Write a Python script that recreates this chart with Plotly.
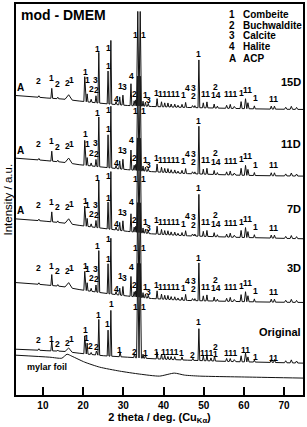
import numpy as np
import plotly.graph_objects as go

FONT = "Liberation Sans, Arial, sans-serif"

# ---------------- data ----------------
# background (baseline) knots, 2theta in degrees, intensity in a.u. (stacked)
BASE_X = [3.3, 7, 11, 15, 19, 25, 31, 37, 46, 58, 64, 75]
BASE_15D = [301, 300, 298.5, 297.5, 295.5, 293, 291, 290, 289, 288, 287.5, 287]
BASE_11D = [238, 237, 235.5, 234, 231.5, 229, 226.5, 224.5, 222.5, 221, 220.5, 220]
BASE_7D = [177, 176, 174.5, 173, 170.5, 167.5, 164.5, 162, 160, 158.5, 158, 157]
BASE_3D = [113, 112, 110.5, 109, 106, 102.5, 99.5, 97, 95, 94, 93.5, 93]
BASE_ORIG = [46, 45.5, 44.5, 44, 42, 39.5, 38, 36.5, 35, 33.5, 33, 32]

# peaks of the soaked samples (2theta, half width) and heights per sample
PEAK_X = [9.0, 12.2, 13.7, 16.4, 20.4, 21.0, 22.0, 23.2, 23.9, 26.2, 26.9, 28.2, 29.1, 29.9,
          31.9, 32.7, 33.1, 33.6, 34.2, 34.9, 35.5, 36.2, 38.4, 39.5, 40.3, 41.1, 41.9, 42.8,
          43.6, 44.6, 45.5, 47.2, 47.8, 48.8, 49.9, 50.8, 52.6, 53.4, 55.7, 56.6, 57.6, 59.3,
          60.4, 61.0, 62.6, 66.8, 67.6, 70.4, 71.8, 73.1]
PEAK_W = [0.22, 0.22, 0.22, 0.9, 0.22, 0.22, 0.22, 0.22, 0.22, 0.22, 0.22, 0.22, 0.22, 0.22,
          0.22, 0.22, 0.18, 0.3, 0.3, 0.18, 0.22, 0.22, 0.22, 0.22, 0.22, 0.22, 0.22, 0.22,
          0.22, 0.22, 0.22, 0.22, 0.22, 0.22, 0.22, 0.22, 0.22, 0.22, 0.25, 0.25, 0.25, 0.25,
          0.28, 0.28, 0.22, 0.25, 0.25, 0.3, 0.3, 0.3]
H_15D = [1.5, 10, 1.5, 5, 25, 8, 3, 7, 51, 33, 64, 3, 8, 10, 22, 5, 6, 95, 95, 5, 4, 3, 8, 5,
         4, 4, 3, 3, 2, 3, 5, 2, 2, 48, 5, 6, 4, 2, 3, 4, 2, 7, 10, 6, 3, 3, 3, 2, 3, 2]
H_11D = [1.5, 10, 1.5, 5, 25, 8, 3, 7, 50, 33, 62, 3, 8, 10, 20, 5, 6, 95, 95, 5, 4, 3, 8, 5,
         4, 4, 3, 3, 2, 3, 5, 2, 2, 48, 5, 6, 4, 2, 3, 4, 2, 7, 10, 6, 3, 3, 3, 2, 3, 2]
H_7D = [1.5, 10, 1.5, 5, 20, 8, 3, 7, 47, 27, 58, 3, 8, 10, 18, 5, 6, 95, 95, 5, 4, 3, 8, 5,
        4, 4, 3, 3, 2, 3, 5, 2, 2, 42, 5, 6, 4, 2, 3, 4, 2, 7, 10, 6, 3, 3, 3, 2, 3, 2]
H_3D = [1.5, 11, 1.5, 5, 19, 8, 3, 7, 42, 30, 56, 3, 7, 9, 20, 5, 6, 95, 95, 5, 4, 3, 8, 5,
        4, 4, 3, 3, 2, 3, 6, 2, 2, 38, 5, 6, 4, 2, 3, 4, 2, 7, 10, 6, 3, 3, 3, 2, 3, 2]

# peaks of the original glass-ceramic
ORIG_X = [9.0, 12.2, 13.7, 16.4, 20.4, 21.0, 22.0, 23.3, 23.9, 26.2, 26.9, 29.2, 32.8, 33.6,
          34.2, 34.9, 35.5, 38.4, 39.5, 40.3, 41.1, 41.9, 42.8, 44.6, 47.3, 48.8, 49.9, 50.8,
          51.8, 52.7, 55.7, 56.6, 57.6, 59.3, 60.4, 61.0, 62.6, 66.8, 67.6, 70.4, 71.8, 73.1]
ORIG_W = [0.22, 0.22, 0.22, 0.9, 0.22, 0.22, 0.22, 0.22, 0.22, 0.22, 0.22, 0.22, 0.22, 0.3,
          0.3, 0.18, 0.22, 0.22, 0.22, 0.22, 0.22, 0.22, 0.22, 0.22, 0.22, 0.22, 0.22, 0.22,
          0.22, 0.22, 0.25, 0.25, 0.25, 0.25, 0.28, 0.28, 0.22, 0.25, 0.25, 0.3, 0.3, 0.3]
ORIG_H = [1.5, 10, 1, 4, 18, 11, 2, 4, 36, 26, 46, 5, 4, 95, 95, 4, 3, 7, 5, 4, 3, 3, 3, 3,
          2, 32, 5, 6, 3, 5, 3, 3, 2, 6, 9, 5, 2, 3, 3, 2, 3, 2]

# mylar foil background
MYLAR_X = [3.3, 11.7, 14.7, 16.0, 17.2, 20.4, 24.1, 29.1, 34.1, 39.0, 42.7, 45.2, 48.9, 61.3, 74.7]
MYLAR_Y = [40, 38, 37, 41, 39, 33, 28, 24, 21, 19, 22, 20, 19, 18, 17]

# phase labels of soaked samples: text, 2theta, height above background
LBL_T_TEXT = ["2", "1", "2", "2", "1", "1", "3", "2", "2", "4", "1", "3", "4", "2", "1", "3",
              "1", "11111", "1", "4", "3", "2", "11", "2", "14",
              "111", "1", "11", "1", "11"]
LBL_T_X = [9.0, 12.2, 13.7, 16.2, 17.1, 21.1, 23.1, 22.0, 23.3, 28.2, 29.2, 30.2, 32.0, 32.9,
           35.5, 36.2, 38.3, 41.45, 44.9, 45.9, 47.4, 47.4, 50.5, 52.9, 53.05,
           56.9, 59.3, 60.9, 62.8, 67.3]
LBL_T_DY = [16, 20, 15, 17, 20, 22, 23, 13, 13, 6, 19, 18, 30, 12, 11, 6, 14, 13, 12, 19.5, 19.5,
            11.5, 14, 21.5, 13, 14, 16, 19, 11, 10.5]

LBL_O_TEXT = ["2", "1", "2", "2", "1", "1", "2", "2", "1", "2", "1", "1", "1111",
              "1", "2", "111", "2", "1", "111", "11", "1", "11"]
LBL_O_X = [9.0, 12.2, 13.7, 16.2, 17.2, 20.9, 21.9, 23.4, 29.1, 32.8, 35.5, 38.3, 41.65,
           44.5, 47.2, 50.8, 52.9, 52.9, 56.9, 60.3, 62.8, 67.3]
LBL_O_DY = [10, 11.5, 7, 9, 13, 16, 8, 8.5, 7, 6, 5.5, 7, 8,
            6.5, 5, 7.5, 14.5, 7, 8.5, 11.5, 5, 4.5]

# labels on the tall peaks (absolute a.u.)
TALL_X = [20.5, 23.5, 26.2, 26.3, 48.8]
TALL_X_ORIG = [20.5, 23.8, 26.1, 27.1, 48.8]
TALL_Y = {"15D": [325, 348, 331, 349, 343], "11D": [262, 283, 267, 286, 275],
          "7D": [195, 218, 198, 220, 208], "3D": [130, 150, 137, 157, 138],
          "Original": [65, 80, 71, 91, 73]}
MAIN_LBL_X = [33.0, 34.9]
MAIN_LBL_Y = {"15D": 362, "11D": 285, "7D": 217, "3D": 148, "Original": 88}

SAMPLES = ["15D", "11D", "7D", "3D"]
SAMPLE_BASE = [BASE_15D, BASE_11D, BASE_7D, BASE_3D]
SAMPLE_H = [H_15D, H_11D, H_7D, H_3D]
HAS_ACP = [True, True, True, False]
NAME_Y = {"15D": 315, "11D": 252, "7D": 187, "3D": 128, "Original": 63}

LEG_NUM = ["1", "2", "3", "4", "A"]
LEG_TXT = ["Combeite", "Buchwaldite", "Calcite", "Halite", "ACP"]
LEG_Y = [382, 371, 361, 350, 338]

XTICKS = [10, 20, 30, 40, 50, 60, 70]


# ---------------- helpers ----------------
def pattern(bx, by, px, ph, pw):
    pts = []
    for x, y in zip(bx, by):
        if all(abs(x - p) > w for p, w in zip(px, pw)):
            pts.append((x, y))
    for p, h, w in zip(px, ph, pw):
        pts.append((p - w, float(np.interp(p - w, bx, by))))
        pts.append((p, float(np.interp(p, bx, by)) + h))
        pts.append((p + w, float(np.interp(p + w, bx, by))))
    pts.sort()
    return [a for a, _ in pts], [b for _, b in pts]


fig = go.Figure()


def label(x, y, t, size=8.5, anchor="center", weight="bold"):
    fig.add_annotation(x=x, y=y, text=t, showarrow=False, xanchor=anchor, yanchor="middle",
                       borderpad=0,
                       font=dict(family=FONT, size=size, color="black", weight=weight))


LINE = dict(color="#111111", width=1)

for name, base, h, acp in zip(SAMPLES, SAMPLE_BASE, SAMPLE_H, HAS_ACP):
    xs, ys = pattern(BASE_X, base, PEAK_X, h, PEAK_W)
    fig.add_trace(go.Scatter(x=xs, y=ys, mode="lines", line=LINE, hoverinfo="skip",
                             showlegend=False))
    for t, x, dy in zip(LBL_T_TEXT, LBL_T_X, LBL_T_DY):
        label(x, float(np.interp(x, BASE_X, base)) + dy, t)
    for x, y in zip(TALL_X, TALL_Y[name]):
        label(x, y, "1")
    for x in MAIN_LBL_X:
        label(x, MAIN_LBL_Y[name], "1")
    if acp:
        label(4.3, base[0] + 8, "A", size=10)
    label(74.5, NAME_Y[name], name, size=11, anchor="right")

xs, ys = pattern(BASE_X, BASE_ORIG, ORIG_X, ORIG_H, ORIG_W)
fig.add_trace(go.Scatter(x=xs, y=ys, mode="lines", line=LINE, hoverinfo="skip", showlegend=False))
for t, x, dy in zip(LBL_O_TEXT, LBL_O_X, LBL_O_DY):
    label(x, float(np.interp(x, BASE_X, BASE_ORIG)) + dy, t)
for x, y in zip(TALL_X_ORIG, TALL_Y["Original"]):
    label(x, y, "1")
for x in MAIN_LBL_X:
    label(x, MAIN_LBL_Y["Original"], "1")
label(74.5, NAME_Y["Original"], "Original", size=11, anchor="right")

fig.add_trace(go.Scatter(x=MYLAR_X, y=MYLAR_Y, mode="lines",
                         line=dict(color="#111111", width=1, shape="spline", smoothing=0.6),
                         hoverinfo="skip", showlegend=False))
label(5.8, 28, "mylar foil", size=9, anchor="left")

# legend as text
for n, t, y in zip(LEG_NUM, LEG_TXT, LEG_Y):
    label(57.1, y, n, size=10)
    label(59.4, y, t, size=10, anchor="left")

# title inside the frame
label(4.3, 382, "mod - DMEM", size=14, anchor="left")

# y axis title
fig.add_annotation(xref="paper", yref="paper", x=0, y=0.5, xshift=-9, text="Intensity / a.u.",
                   textangle=-90, showarrow=False, xanchor="center", yanchor="middle",
                   font=dict(family=FONT, size=11.5, color="black"))

fig.update_layout(
    width=307, height=427,
    margin=dict(l=16, r=3, t=2, b=32),
    paper_bgcolor="white", plot_bgcolor="white",
    showlegend=False,
    xaxis=dict(range=[3.3, 74.7], tickvals=XTICKS, ticks="inside", ticklen=8, tickwidth=2,
               tickcolor="black", showline=True, linewidth=2, linecolor="black", mirror=True,
               showgrid=False, zeroline=False,
               tickfont=dict(family=FONT, size=10, color="black", weight="bold"),
               title=dict(text="2 theta / deg. (Cu<sub>Kα</sub>)", standoff=2,
                          font=dict(family=FONT, size=11, color="black", weight="bold"))),
    yaxis=dict(range=[0, 393], showticklabels=False, ticks="", showline=True, linewidth=1.5,
               linecolor="black", mirror=True, showgrid=False, zeroline=False),
)

fig.write_html("out.html", config={"displayModeBar": False},
               post_script="document.body.style.margin='0';")
